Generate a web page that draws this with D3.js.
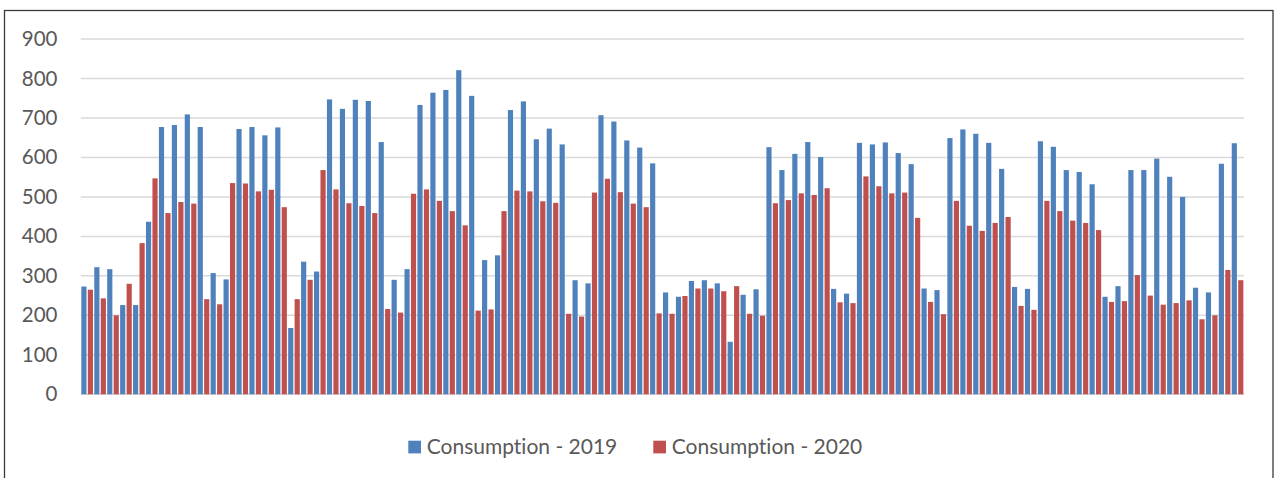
<!DOCTYPE html>
<html><head><meta charset="utf-8">
<script src="https://cdn.jsdelivr.net/npm/d3@7"></script>
<style>body{margin:0;background:#fff;} svg{display:block;} text{font-variant-ligatures:none;font-feature-settings:"liga" 0;}</style>
</head><body>
<svg id="chart" width="1278" height="478"></svg>
<script>
const seriesNames = ["Consumption - 2019", "Consumption - 2020"];
const colors = ["#4F81BD", "#C0504D"];
const yTicks = [0,100,200,300,400,500,600,700,800,900];
const values2019 = [273,322,317,226,226,437,677,682,709,677,307,291,672,677,656,676,168,336,311,747,723,746,743,639,290,317,733,764,771,821,756,340,352,720,742,646,673,633,289,281,707,691,643,625,585,258,247,287,289,281,133,252,266,626,568,609,639,601,267,255,637,633,638,611,583,268,264,649,671,660,637,571,272,267,641,627,568,563,532,247,274,568,568,597,551,500,270,258,584,636];
const values2020 = [265,243,200,280,383,547,459,487,483,241,228,535,534,514,518,474,241,290,568,519,484,477,459,216,207,508,519,490,464,428,212,215,464,516,514,489,485,204,197,511,546,512,483,474,205,204,249,268,268,261,274,204,199,484,492,509,505,522,233,231,552,527,509,511,447,234,203,490,427,414,434,449,224,214,490,464,440,434,416,234,236,302,250,227,231,238,190,200,315,289];
const categories = values2019.map((d,i) => "W" + (i+1));

const svg = d3.select("#chart");
// outer frame
svg.append("rect").attr("x",4.5).attr("y",10.5).attr("width",1268.5).attr("height",480)
  .attr("fill","none").attr("stroke","#3a3a3a").attr("stroke-width",1.3);

const x = d3.scaleBand().domain(categories).range([80.7, 1244]).paddingInner(0).paddingOuter(0);
const xs = d3.scaleBand().domain([0,1]).range([0, x.bandwidth()]).paddingInner(0.2).paddingOuter(0.1);
const y = d3.scaleLinear().domain([0, 900]).range([394.3, 39]);

// gridlines
svg.append("g").selectAll("line").data(yTicks).join("line")
  .attr("x1", 80.7).attr("x2", 1244)
  .attr("y1", d => y(d)).attr("y2", d => y(d))
  .attr("stroke", "#d9d9d9").attr("stroke-width", 1.5);

// y labels
const yAxis = d3.axisLeft(y).tickValues(yTicks).tickSize(0).tickPadding(0);
const ga = svg.append("g").attr("transform","translate(57.5,0)").call(yAxis);
ga.select(".domain").remove();
ga.selectAll("text").attr("font-family","Lato, 'Open Sans', sans-serif").attr("font-size",20.5).attr("fill","#595959");

// bars
const data = categories.map((c,i) => ({c, v:[values2019[i], values2020[i]]}));
const g = svg.append("g");
g.selectAll("g").data(data).join("g")
  .attr("transform", d => `translate(${x(d.c)},0)`)
  .selectAll("rect").data(d => d.v.map((v,k)=>({v,k}))).join("rect")
  .attr("x", d => xs(d.k)).attr("width", xs.bandwidth())
  .attr("y", d => y(d.v)).attr("height", d => y(0) - y(d.v))
  .attr("fill", d => colors[d.k]);

// legend
const legendX = [408.3, 653.3];
const lg = svg.append("g");
seriesNames.forEach((n,i) => {
  lg.append("rect").attr("x", legendX[i]).attr("y", 440.7).attr("width", 12.7).attr("height", 12.7).attr("fill", colors[i]);
  lg.append("text").attr("x", legendX[i] + 18.4).attr("y", 447).attr("dy","0.35em")
    .attr("font-family","Lato, 'Open Sans', sans-serif").attr("font-size",21).attr("fill","#595959").text(n);
});
</script>
</body></html>
